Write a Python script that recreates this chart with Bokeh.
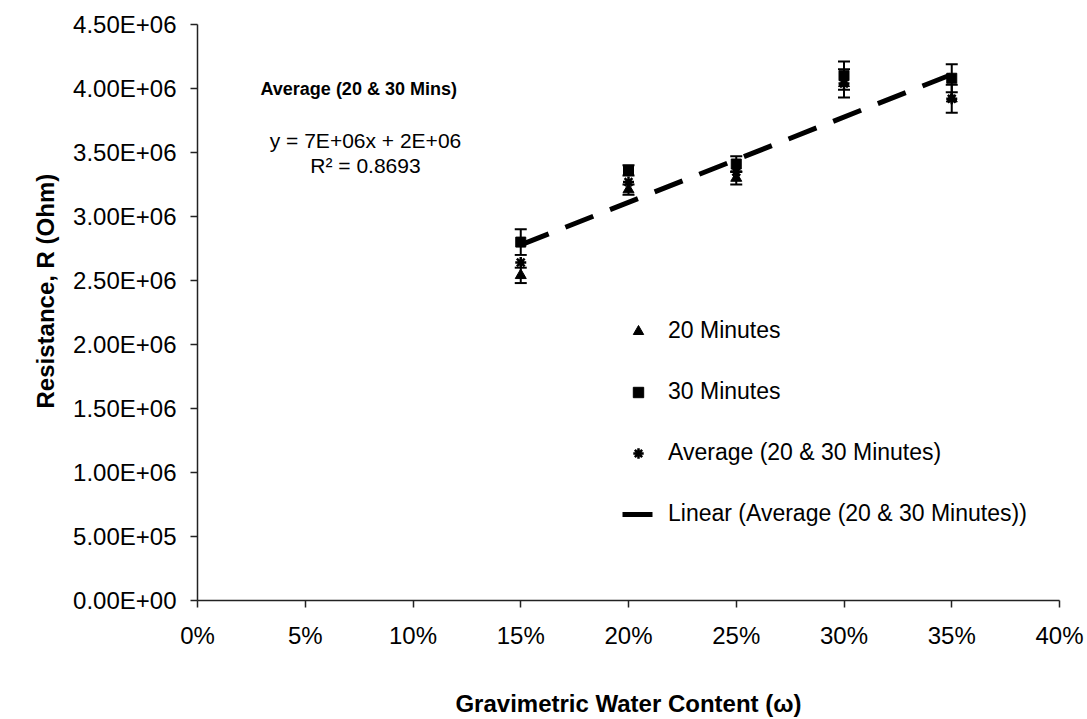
import numpy as np
from bokeh.plotting import figure
from bokeh.models import (Range1d, FixedTicker, CustomJSTickFormatter, NumeralTickFormatter,
                          Whisker, ColumnDataSource, Legend, LegendItem, Label, TeeHead, Title,
                          LinearAxis)
from bokeh.embed import file_html
from bokeh.resources import INLINE

# ---------------- data ----------------
water = [0.15, 0.20, 0.25, 0.30, 0.35]
r_20min = [2.54e6, 3.21e6, 3.30e6, 4.04e6, 3.92e6]
err_20min = [0.06e6, 0.04e6, 0.05e6, 0.11e6, 0.11e6]
r_30min = [2.80e6, 3.36e6, 3.41e6, 4.10e6, 4.08e6]
err_30min = [0.10e6, 0.04e6, 0.06e6, 0.11e6, 0.11e6]
r_avg = [2.64e6, 3.27e6, 3.35e6, 4.04e6, 3.92e6]

x_ticks = [0.0, 0.05, 0.10, 0.15, 0.20, 0.25, 0.30, 0.35, 0.40]
y_ticks = [0.0, 0.5e6, 1.0e6, 1.5e6, 2.0e6, 2.5e6, 3.0e6, 3.5e6, 4.0e6, 4.5e6]

series_names = ["20 Minutes", "30 Minutes", "Average (20 & 30 Minutes)",
                "Linear (Average (20 & 30 Minutes))"]
box_title = "Average (20 & 30 Mins)"
eq_text = "y = 7E+06x + 2E+06"
r2_text = "R\u00b2 = 0.8693"
x_title = "Gravimetric Water Content (\u03c9)"
y_title = "Resistance, R (Ohm)"

# ---------------- layout (picture pixels) ----------------
W, H = 1087, 719
FL, FR, FT, FB = 197, 1059, 24, 601   # frame edges
X0, X1 = x_ticks[0], x_ticks[-1]
Y0, Y1 = y_ticks[0], y_ticks[-1]


def px2x(px):
    return X0 + (px - FL) / (FR - FL) * (X1 - X0)


def px2y(py):
    return Y1 - (py - FT) / (FB - FT) * (Y1 - Y0)


FONT = "Liberation Sans"

p = figure(width=W, height=H, output_backend="svg", toolbar_location=None,
           x_range=Range1d(X0, X1), y_range=Range1d(Y0, Y1),
           min_border_left=FL, min_border_right=W - FR,
           min_border_top=FT, min_border_bottom=H - FB)
p.outline_line_color = None
p.grid.visible = False
p.background_fill_color = "white"
p.border_fill_color = "white"

# axes
for ax in (p.xaxis[0], p.yaxis[0]):
    ax.axis_line_color = "#222222"
    ax.axis_line_width = 1.5
    ax.major_tick_line_color = "#222222"
    ax.major_tick_line_width = 1.5
    ax.major_tick_out = 7
    ax.major_tick_in = 0
    ax.minor_tick_line_color = None
    ax.major_label_text_font = FONT
    ax.major_label_text_color = "black"
    ax.major_label_text_font_size = "24px"

p.xaxis.ticker = FixedTicker(ticks=x_ticks)
p.xaxis.formatter = NumeralTickFormatter(format="0%")
p.xaxis.major_label_standoff = 14

p.yaxis.ticker = FixedTicker(ticks=y_ticks)
p.yaxis.formatter = CustomJSTickFormatter(code="""
    const s = tick.toExponential(2);
    const parts = s.split('e');
    const sign = parts[1][0];
    let d = parts[1].slice(1);
    if (d.length < 2) { d = '0' + d; }
    return parts[0] + 'E' + sign + d;
""")
p.yaxis.major_label_standoff = 14

# x-axis title carried by a bare second axis, so that it can sit off-centre
title_axis = LinearAxis(ticker=FixedTicker(ticks=[]), bounds=(X0, px2x(2 * 594 - FL)),
                        axis_line_color=None, major_tick_line_color=None,
                        minor_tick_line_color=None, major_label_text_font_size="0px",
                        major_tick_out=0, major_tick_in=0, major_label_standoff=0,
                        axis_label=x_title, axis_label_text_font=FONT,
                        axis_label_text_font_style="bold",
                        axis_label_text_font_size="24px",
                        axis_label_text_color="black", axis_label_standoff=38)
p.add_layout(title_axis, "below")

# y-axis title as a side title (offset from the bottom of the frame)
ytitle = Title(text=y_title, align="left", offset=192, text_font=FONT,
               text_font_style="bold", text_font_size="24px", text_color="black",
               standoff=24)
p.add_layout(ytitle, "left")

# error bars
src20 = ColumnDataSource(dict(x=water, y=r_20min,
                              lo=[v - e for v, e in zip(r_20min, err_20min)],
                              hi=[v + e for v, e in zip(r_20min, err_20min)]))
src30 = ColumnDataSource(dict(x=water, y=r_30min,
                              lo=[v - e for v, e in zip(r_30min, err_30min)],
                              hi=[v + e for v, e in zip(r_30min, err_30min)]))
for src in (src20, src30):
    wk = Whisker(base="x", lower="lo", upper="hi", source=src,
                 line_color="black", line_width=2,
                 upper_head=TeeHead(size=12, line_width=2, line_color="black"),
                 lower_head=TeeHead(size=12, line_width=2, line_color="black"))
    p.add_layout(wk)

# trendline (least-squares on average series)
slope, intercept = np.polyfit(water, r_avg, 1)
xf = [min(water), max(water)]
yf = [slope * v + intercept for v in xf]
r_lin = p.line(xf, yf, line_color="black", line_width=5, line_dash="30 18")

r_tri = p.scatter("x", "y", source=src20, marker="triangle", size=11,
                  fill_color="black", line_color="black")
r_sq = p.scatter("x", "y", source=src30, marker="square", size=10,
                 fill_color="black", line_color="black")
r_av = p.scatter(water, r_avg, marker="asterisk", size=11,
                 line_color="black", line_width=2.5)

legend = Legend(items=[LegendItem(label=series_names[0], renderers=[r_tri]),
                       LegendItem(label=series_names[1], renderers=[r_sq]),
                       LegendItem(label=series_names[2], renderers=[r_av]),
                       LegendItem(label=series_names[3], renderers=[r_lin])],
                location=(622 - FL, FB - 528),
                glyph_width=32, glyph_height=26, label_height=26, spacing=34,
                label_standoff=14, padding=0, margin=0,
                border_line_alpha=0, background_fill_alpha=0,
                label_text_font=FONT, label_text_font_size="23px",
                label_text_color="black")
p.add_layout(legend, "center")

# text annotations inside the plot area
p.add_layout(Label(x=px2x(260), y=px2y(89), text=box_title, text_font=FONT,
                   text_font_style="bold", text_font_size="18px",
                   text_baseline="middle", text_align="left", text_color="black"))
p.add_layout(Label(x=px2x(365), y=px2y(140), text=eq_text, text_font=FONT,
                   text_font_size="21px", text_baseline="middle",
                   text_align="center", text_color="black"))
p.add_layout(Label(x=px2x(365), y=px2y(165), text=r2_text, text_font=FONT,
                   text_font_size="21px", text_baseline="middle",
                   text_align="center", text_color="black"))

open("out.html", "w").write(file_html(p, INLINE))
